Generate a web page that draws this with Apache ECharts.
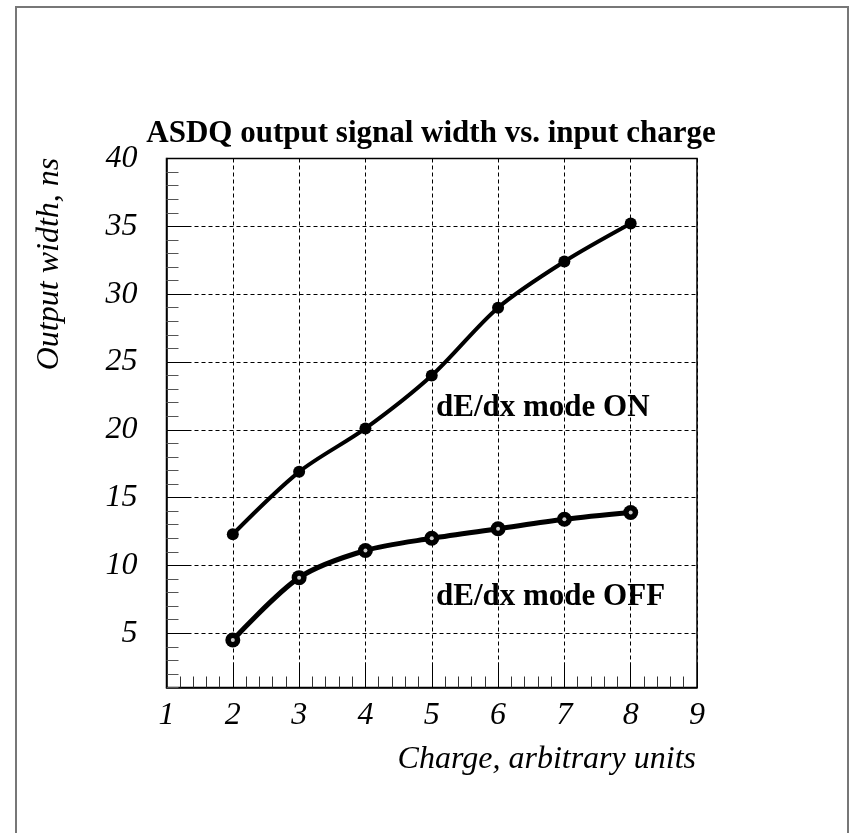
<!DOCTYPE html>
<html>
<head>
<meta charset="utf-8">
<script src="https://cdn.jsdelivr.net/npm/echarts@6/dist/echarts.min.js"></script>
<style>html,body{margin:0;padding:0;background:#fff;}#c{width:851px;height:833px;}</style>
</head>
<body>
<div id="c"></div>
<script>
var charge = [2, 3, 4, 5, 6, 7, 8];
var widthOn = [12.3, 16.9, 20.1, 24.0, 29.0, 32.4, 35.2];
var widthOff = [4.5, 9.1, 11.1, 12.0, 12.7, 13.4, 13.9];
var yMajorTicks = [5, 10, 15, 20, 25, 30, 35, 40];
var titleText = 'ASDQ output signal width vs. input charge';
var yName = 'Output width, ns';
var xName = 'Charge, arbitrary units';
var labelOn = 'dE/dx mode ON';
var labelOff = 'dE/dx mode OFF';

var SERIF = '"Liberation Serif", "DejaVu Serif", serif';
var chart = echarts.init(document.getElementById('c'), null, {renderer: 'canvas'});

function pairs(xs, ys) { return xs.map(function (x, i) { return [x, ys[i]]; }); }

var dashed = {show: true, lineStyle: {color: '#000', width: 1, type: [4, 3]}};

chart.setOption({
  backgroundColor: '#fff',
  animation: false,
  grid: {left: 166.5, right: 154, top: 158.5, bottom: 145.5, show: true, borderColor: '#000', borderWidth: 1.5, backgroundColor: 'transparent'},
  xAxis: [{
    type: 'value', min: 1, max: 9, interval: 1, position: 'bottom',
    axisLine: {show: true, lineStyle: {color: '#000', width: 1.5}},
    axisTick: {show: true, inside: true, length: 25, lineStyle: {color: '#000', width: 1}},
    minorTick: {show: true, splitNumber: 5, length: 11, lineStyle: {color: '#333', width: 1}},
    axisLabel: {show: true, margin: 12, fontFamily: SERIF, fontStyle: 'italic', fontSize: 32, color: '#000'},
    splitLine: dashed
  }],
  yAxis: [{
    type: 'value', min: 1, max: 40, interval: 1, position: 'left',
    axisLine: {show: true, lineStyle: {color: '#000', width: 1.5}},
    axisTick: {show: true, inside: true, length: 12, lineStyle: {color: '#555', width: 1}},
    axisLabel: {show: false},
    splitLine: {show: false}
  }, {
    type: 'value', min: 1, max: 40, position: 'left', offset: 0,
    axisLine: {show: false},
    axisTick: {show: true, inside: true, length: 24, customValues: yMajorTicks, lineStyle: {color: '#000', width: 1}},
    axisLabel: {show: true, customValues: yMajorTicks, margin: 29, fontFamily: SERIF, fontStyle: 'italic', fontSize: 32, color: '#000'},
    splitLine: dashed
  }],
  series: [{
    type: 'line', yAxisIndex: 0, data: pairs(charge, widthOn), smooth: 0.3,
    symbol: 'circle', symbolSize: 12,
    lineStyle: {color: '#000', width: 4}, itemStyle: {color: '#000'}
  }, {
    type: 'line', yAxisIndex: 0, data: pairs(charge, widthOff), smooth: 0.3,
    symbol: 'circle', symbolSize: 15,
    lineStyle: {color: '#000', width: 5}, itemStyle: {color: '#000'}
  }, {
    type: 'scatter', yAxisIndex: 0, data: pairs(charge, widthOff), silent: true, z: 5,
    symbol: 'circle', symbolSize: 4, itemStyle: {color: '#fff'}
  }],
  graphic: [
    {type: 'rect', shape: {x: 16, y: 7, width: 832, height: 840}, style: {fill: 'none', stroke: '#777', lineWidth: 2}, silent: true, z: -1},
    {type: 'text', x: 431, y: 134, style: {text: titleText, fontFamily: SERIF, fontWeight: 'bold', fontSize: 31, fill: '#000', align: 'center', verticalAlign: 'middle'}},
    {type: 'text', x: 50, y: 264, rotation: Math.PI / 2, style: {text: yName, fontFamily: SERIF, fontStyle: 'italic', fontSize: 32, fill: '#000', align: 'center', verticalAlign: 'middle'}},
    {type: 'text', x: 696, y: 760, style: {text: xName, fontFamily: SERIF, fontStyle: 'italic', fontSize: 32, fill: '#000', align: 'right', verticalAlign: 'middle'}},
    {type: 'text', x: 436, y: 408, style: {text: labelOn, fontFamily: SERIF, fontWeight: 'bold', fontSize: 31, fill: '#000', align: 'left', verticalAlign: 'middle'}},
    {type: 'text', x: 436, y: 597, style: {text: labelOff, fontFamily: SERIF, fontWeight: 'bold', fontSize: 31, fill: '#000', align: 'left', verticalAlign: 'middle'}}
  ]
});
</script>
</body>
</html>
